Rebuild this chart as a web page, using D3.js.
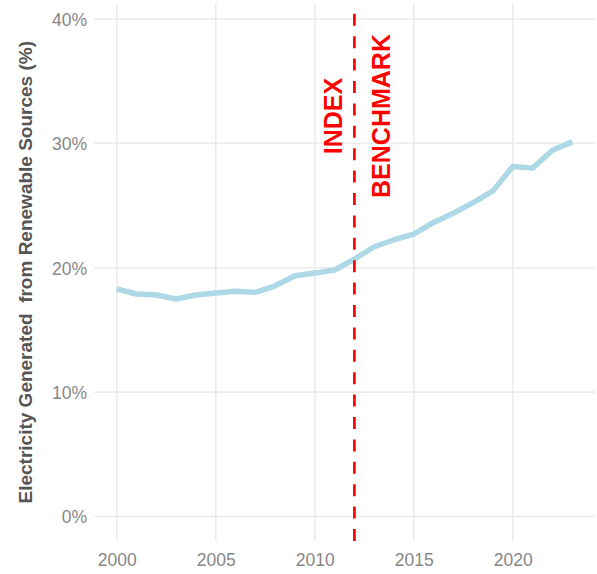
<!DOCTYPE html>
<html lang="en">
    <head>
        <meta charset="utf-8">
        <title>Renewable electricity share</title>
        <script type="text/javascript" src="https://d3js.org/d3.v7.min.js"></script>
        <style>
            body {
                margin: 0;
                background: #fff;
            }
            svg {
                font-family: "Liberation Sans", Arial, Helvetica, sans-serif;
            }
            .tick text {
                fill: #878787;
                font-size: 17.5px;
            }
        </style>
    </head>
    <body>
        <script>
            // data
            const years = [2000, 2001, 2002, 2003, 2004, 2005, 2006, 2007, 2008, 2009, 2010, 2011,
                           2012, 2013, 2014, 2015, 2016, 2017, 2018, 2019, 2020, 2021, 2022, 2023];
            const renewShare = [18.29, 17.89, 17.81, 17.49, 17.81, 17.97, 18.11, 18.02, 18.55, 19.36, 19.57, 19.82,
                                20.70, 21.69, 22.25, 22.71, 23.64, 24.39, 25.24, 26.18, 28.14, 28.01, 29.45, 30.12];
            const xTicks = [2000, 2005, 2010, 2015, 2020];
            const yTicks = [0, 10, 20, 30, 40];
            const benchmarkYear = 2012;
            const labels = [
                {text: "INDEX", year: 2011.36, value: 32.2},
                {text: "BENCHMARK", year: 2013.78, value: 32.2}
            ];

            const w = 597;
            const h = 574;
            // panel edges
            const panelL = 94, panelR = 595, panelT = 3.5, panelB = 541;

            const svg = d3.select("body")
                        .append("svg")
                        .attr("width", w)
                        .attr("height", h);

            // scales
            const xScale = d3.scaleLinear()
                            .domain([1998.85, 2024.15])
                            .range([panelL, panelR]);
            const yScale = d3.scaleLinear()
                            .domain([0, 40])
                            .range([516.5, 19]);

            // grid lines
            const grid = svg.append("g")
                .attr("stroke", "#ebebeb")
                .attr("stroke-width", 1.6);
            grid.selectAll(".hgrid")
                .data(yTicks)
                .enter()
                .append("line")
                .attr("x1", panelL)
                .attr("x2", panelR)
                .attr("y1", d => yScale(d))
                .attr("y2", d => yScale(d));
            grid.selectAll(".vgrid")
                .data(xTicks)
                .enter()
                .append("line")
                .attr("x1", d => xScale(d))
                .attr("x2", d => xScale(d))
                .attr("y1", panelT)
                .attr("y2", panelB);

            // axes (labels only)
            const xAxis = d3.axisBottom(xScale)
                            .tickValues(xTicks)
                            .tickFormat(d3.format("d"))
                            .tickSize(0)
                            .tickPadding(13);
            const yAxis = d3.axisLeft(yScale)
                            .tickValues(yTicks)
                            .tickFormat(d => d + "%")
                            .tickSize(0)
                            .tickPadding(7);

            svg.append("g")
                .attr("class", "x axis")
                .attr("transform", `translate(0,${panelB})`)
                .call(xAxis)
                .call(g => g.select(".domain").remove());

            svg.append("g")
                .attr("class", "y axis")
                .attr("transform", `translate(${panelL},0)`)
                .call(yAxis)
                .call(g => g.select(".domain").remove())
                .selectAll("text")
                .attr("dy", "0.36em");

            // y axis title
            svg.append("text")
                .attr("transform", `translate(32,${(panelT + panelB) / 2}) rotate(-90)`)
                .attr("text-anchor", "middle")
                .attr("fill", "#555")
                .attr("font-weight", "bold")
                .attr("font-size", 19)
                .attr("xml:space", "preserve")
                .text("Electricity Generated  from Renewable Sources (%)");

            // line
            const line = d3.line()
                .x((d, i) => xScale(years[i]))
                .y(d => yScale(d));

            svg.append("path")
                .datum(renewShare)
                .attr("fill", "none")
                .attr("stroke", "#add8e6")
                .attr("stroke-width", 5.5)
                .attr("stroke-linejoin", "round")
                .attr("d", line);

            // benchmark marker, drawn bottom-up so the dash phase starts at the panel bottom
            svg.append("line")
                .attr("x1", xScale(benchmarkYear))
                .attr("x2", xScale(benchmarkYear))
                .attr("y1", panelB)
                .attr("y2", panelT)
                .attr("stroke", "#ff0000")
                .attr("stroke-width", 2.7)
                .attr("stroke-dasharray", "12,10.4");

            svg.selectAll(".note")
                .data(labels)
                .enter()
                .append("text")
                .attr("transform", d => `translate(${xScale(d.year)},${yScale(d.value)}) rotate(-90)`)
                .attr("text-anchor", "middle")
                .attr("fill", "#ff0000")
                .attr("font-weight", "bold")
                .attr("font-size", 25)
                .text(d => d.text);
        </script>
    </body>
</html>
